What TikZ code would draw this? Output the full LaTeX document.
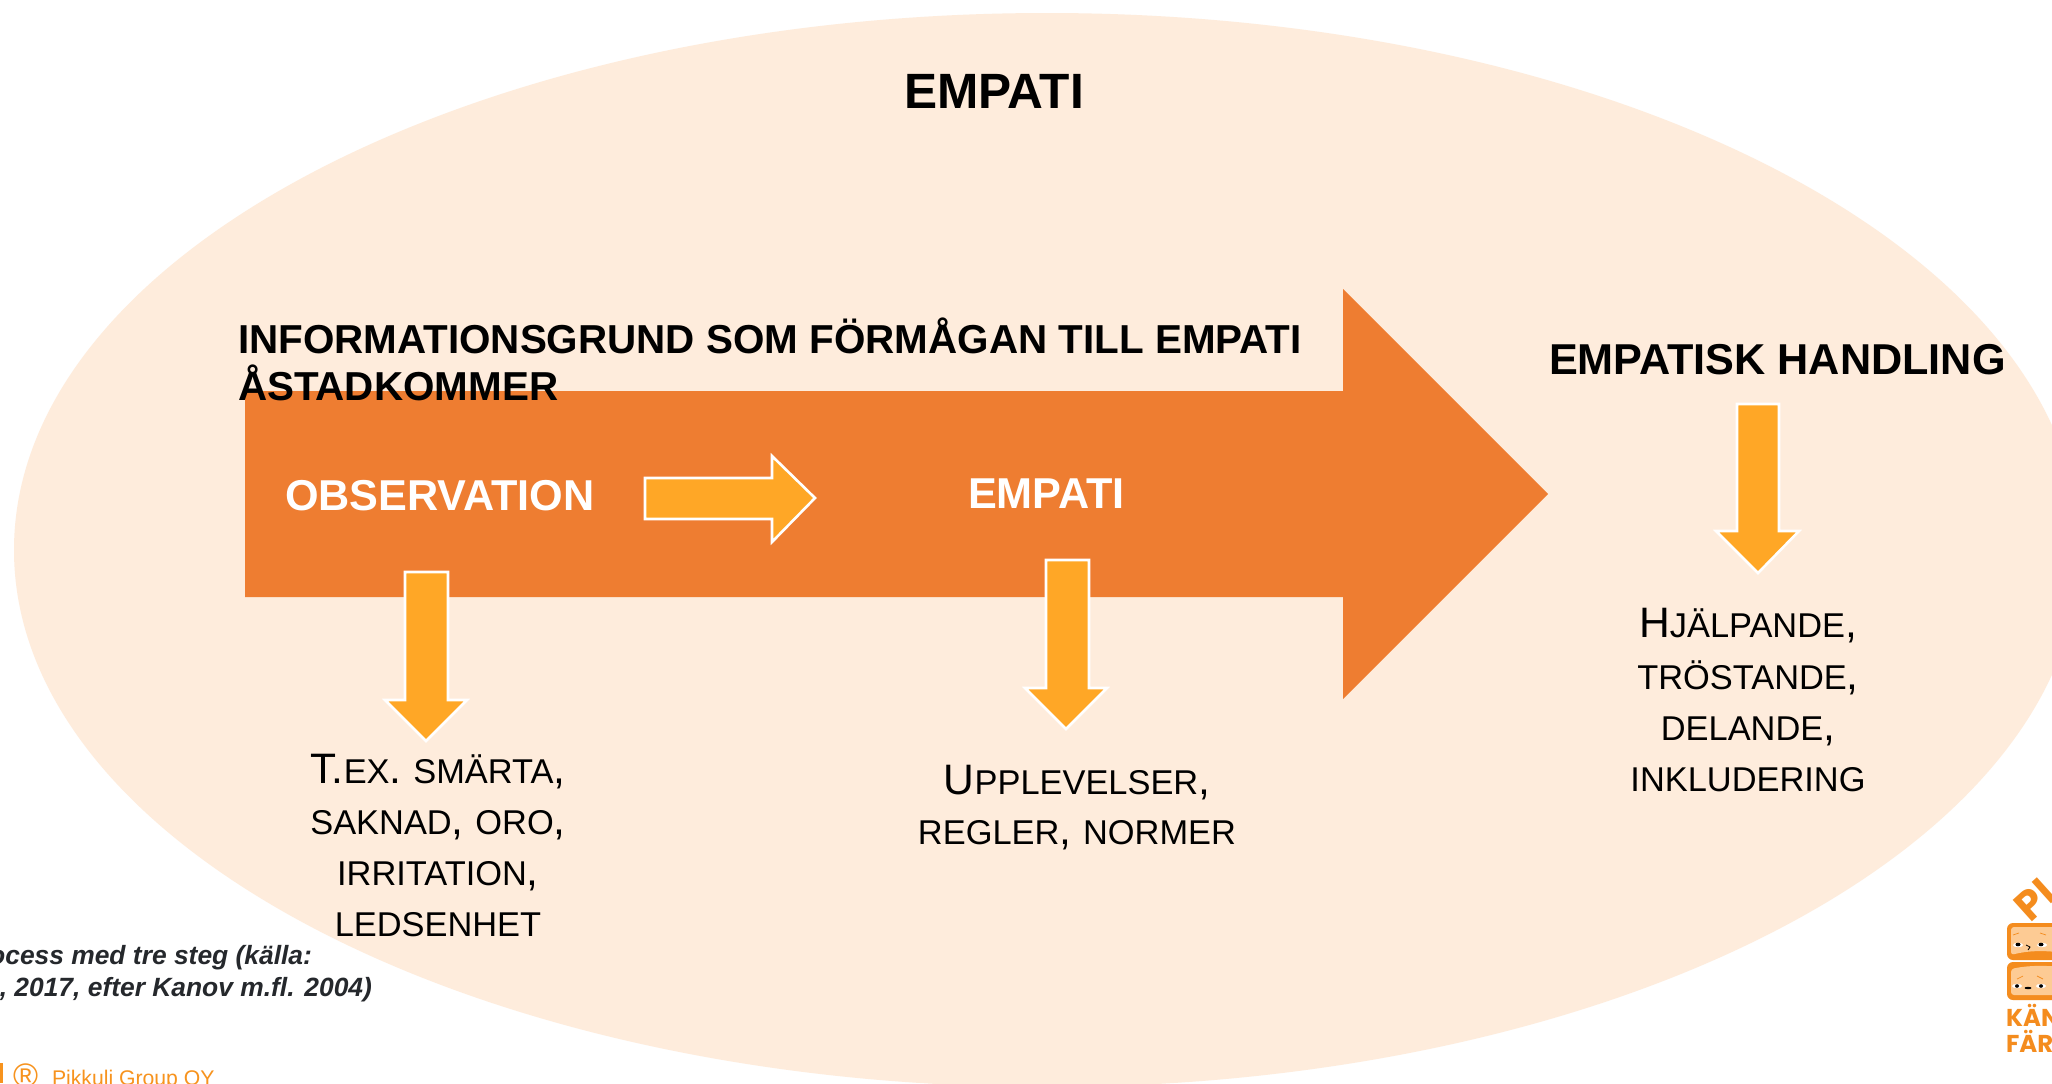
\documentclass[tikz,border=0pt]{standalone}
\usepackage{fontspec}
\setmainfont{Liberation Sans}
\newfontfamily\logofont{Poppins}[BoldFont={Poppins Bold}]
\definecolor{bgell}{HTML}{FEECDC}
\definecolor{bigor}{HTML}{EE7D31}
\definecolor{smor}{HTML}{FFA726}
\definecolor{logoor}{HTML}{F48C1E}
\definecolor{logoin}{HTML}{FDCB94}
\definecolor{capt}{HTML}{25282C}
\definecolor{foot}{HTML}{F7931E}
\newcommand{\fsz}[1]{\fontsize{#1}{#1}\selectfont}
\newcommand{\bigc}[1]{{\fsz{21.3}#1}}
\tikzset{
  x=0.5pt,y=-0.5pt,
  txt/.style={inner sep=0pt,outer sep=0pt,anchor=base west,text=black},
  midtxt/.style={inner sep=0pt,outer sep=0pt,anchor=base,text=black,font=\fsz{17.2}},
  headtxt/.style={txt,font=\fsz{21.6}\bfseries},
  infotxt/.style={txt,font=\fsz{20.2}\bfseries},
  wheadtxt/.style={headtxt,text=white},
  hollow/.style={fill=smor,draw=white,line width=1.3pt,miter limit=10},
  captxt/.style={inner sep=0pt,outer sep=0pt,anchor=base east,text=capt,font=\fsz{13.2}\bfseries\itshape},
  logobox/.style={fill=logoor,rounded corners=3pt},
  logoface/.style={fill=logoin,rounded corners=1.5pt},
  logotxt/.style={inner sep=0pt,outer sep=0pt,anchor=base west,text=logoor,font=\logofont\fsz{12.2}\bfseries},
}
\begin{document}
\begin{tikzpicture}
\useasboundingbox (0,0) rectangle (2052,1083);
\clip (0,0) rectangle (2052,1083);
\fill[white] (0,0) rectangle (2052,1083);
% background ellipse
\fill[bgell] (1047,550) ellipse [x radius=1033,y radius=537];
% big arrow
\fill[bigor] (245,391) -- (1343,391) -- (1343,289) -- (1548,494) -- (1343,699) -- (1343,597) -- (245,597) -- cycle;
% small arrows
\draw[hollow] (645,478) -- (772,478) -- (772,456) -- (815,498) -- (772,542) -- (772,519) -- (645,519) -- cycle;
\draw[hollow] (405,572) -- (448,572) -- (448,700) -- (467,700) -- (426,741) -- (385,700) -- (405,700) -- cycle;
\draw[hollow] (1046,560) -- (1089,560) -- (1089,688) -- (1107,688) -- (1066,729) -- (1025,688) -- (1046,688) -- cycle;
\draw[hollow] (1737,404) -- (1779,404) -- (1779,531) -- (1799,531) -- (1758,573) -- (1716,531) -- (1737,531) -- cycle;
% texts
\node[txt,font=\fsz{24.8}\bfseries] (title) at (904,108) {EMPATI};
\node[infotxt] (info1) at (238,353) {INFORMATIONSGRUND SOM FÖRMÅGAN TILL EMPATI};
\node[infotxt] (info2) at (238,400) {ÅSTADKOMMER};
\node[headtxt] (handling) at (1549,374) {EMPATISK HANDLING};
\node[wheadtxt] (obs) at (285,510) {OBSERVATION};
\node[wheadtxt] (emp) at (968,508) {EMPATI};
\node[midtxt] (a1) at (438,783) {\bigc{T.}EX\bigc{. }SMÄRTA\bigc{,}};
\node[midtxt] (a2) at (438,834) {SAKNAD\bigc{, }ORO\bigc{,}};
\node[midtxt] (a3) at (438,885) {IRRITATION\bigc{,}};
\node[midtxt] (a4) at (438,936) {LEDSENHET};
\node[midtxt] (b1) at (1077,794) {\bigc{U}PPLEVELSER\bigc{,}};
\node[midtxt] (b2) at (1077,844) {REGLER\bigc{, }NORMER};
\node[midtxt] (c1) at (1748,637) {\bigc{H}JÄLPANDE\bigc{,}};
\node[midtxt] (c2) at (1748,689) {TRÖSTANDE\bigc{,}};
\node[midtxt] (c3) at (1748,740) {DELANDE\bigc{,}};
\node[midtxt] (c4) at (1748,791) {INKLUDERING};
% caption
\node[captxt] (cap1) at (312,964) {ocess med tre steg (källa:};
\node[captxt] (cap2) at (372,996) {, 2017, efter Kanov m.fl. 2004)};
% footer
\fill[foot] (0,1063) rectangle (3.3,1083);
\node[inner sep=0pt,outer sep=0pt,anchor=base west,text=foot,font=\fsz{17}] (reg) at (13,1087) {®};
\node[inner sep=0pt,outer sep=0pt,anchor=base west,text=foot,font=\fsz{10.6}] (pik) at (52,1085) {Pikkuli Group OY};
% logo
\node[inner sep=0pt,outer sep=0pt,anchor=base west,rotate=42,text=logoor,font=\logofont\fsz{20.5}\bfseries] (lp) at (2030,923) {PI};
\fill[logobox] (2007,923) rectangle (2075,960);
\fill[logoface] (2011,927) -- (2075,927) -- (2075,955) .. controls (2050,950) and (2030,950) .. (2011,955) -- cycle;
\fill[logobox] (2007,962) rectangle (2075,1000);
\fill[logoface] (2011,969) .. controls (2030,965) and (2050,965) .. (2075,969) -- (2075,995) -- (2011,995) -- cycle;
\fill[white] (2018,945) ellipse [x radius=5,y radius=2.2];
\fill[white] (2042,945) ellipse [x radius=5,y radius=2.2];
\fill[black] (2018,944.5) ellipse [x radius=2.5,y radius=1.8];
\fill[black] (2041,944.5) ellipse [x radius=2.5,y radius=1.8];
\draw[black,line width=0.4pt] (2026,945) -- (2030,947) -- (2028,950);
\draw[logoor,line width=0.35pt] (2013,935) -- (2019,933) (2040,933) -- (2046,935);
\fill[white] (2017,986) ellipse [x radius=5,y radius=2.2];
\fill[white] (2041,986) ellipse [x radius=5,y radius=2.2];
\fill[black] (2017,986) ellipse [x radius=2,y radius=1.8];
\fill[black] (2041,986) ellipse [x radius=2,y radius=1.8];
\fill[black] (2028,988) ellipse [x radius=3.5,y radius=1.2];
\draw[logoor,line width=0.35pt] (2017,979) -- (2023,976) (2037,976) -- (2043,979);
\node[logotxt] (lk) at (2006,1026) {KÄN};
\node[logotxt] (lf) at (2006,1052) {FÄR};
\end{tikzpicture}
\end{document}
